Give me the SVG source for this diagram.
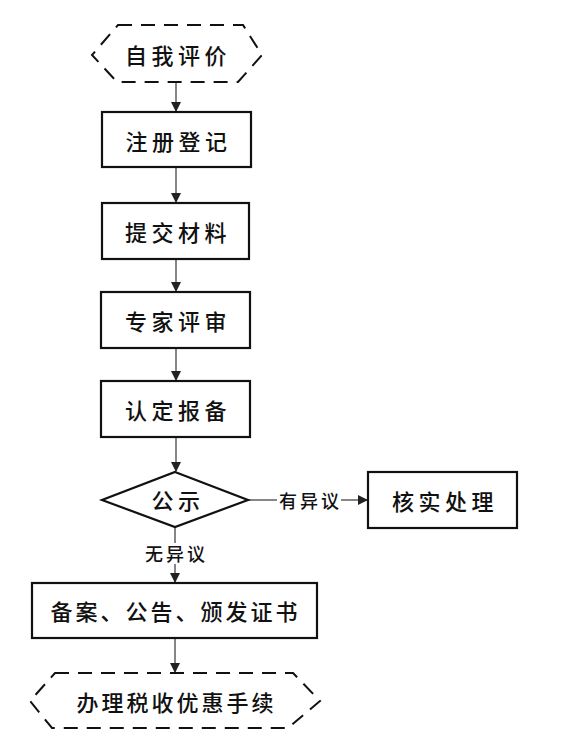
<svg xmlns="http://www.w3.org/2000/svg" width="565" height="755" viewBox="0 0 565 755">
<style>
.box{fill:#fff;stroke:#111;stroke-width:2.2}
.term{fill:#fff;stroke:#111;stroke-width:2;stroke-dasharray:14 9}
.t{font-family:"Noto Sans CJK SC","Noto Sans CJK JP",sans-serif;font-size:22px;font-weight:500;letter-spacing:4.5px;fill:#111;text-anchor:middle;dominant-baseline:central}
.tl{letter-spacing:3px}
.lbl{font-family:"Noto Sans CJK SC","Noto Sans CJK JP",sans-serif;font-size:18px;font-weight:500;letter-spacing:3px;fill:#111;text-anchor:middle;dominant-baseline:central}
.ln{stroke:#444;stroke-width:1.3;fill:none;marker-end:url(#ah)}
.ln2{stroke:#444;stroke-width:1.3;fill:none}
</style>
<defs>
<marker id="ah" markerWidth="10" markerHeight="10" refX="9" refY="5" orient="auto" markerUnits="userSpaceOnUse">
<path d="M0,0 L10,5 L0,10 Z" fill="#222"/>
</marker>
</defs>
<rect width="565" height="755" fill="#fff"/>
<g id="connectors">
<line class="ln" x1="176" y1="82" x2="176" y2="111"/>
<line class="ln" x1="176" y1="167" x2="176" y2="202"/>
<line class="ln" x1="176" y1="259" x2="176" y2="291"/>
<line class="ln" x1="176" y1="348" x2="176" y2="380"/>
<line class="ln" x1="176" y1="437" x2="176" y2="471"/>
<line class="ln2" x1="248" y1="500" x2="277" y2="500"/>
<line class="ln" x1="341" y1="500" x2="367" y2="500"/>
<line class="ln2" x1="175" y1="527" x2="175" y2="543"/>
<line class="ln" x1="175" y1="564" x2="175" y2="582"/>
<line class="ln" x1="175" y1="638" x2="175" y2="672"/>
<text class="lbl" x="310.5" y="500">有异议</text>
<text class="lbl" x="176.5" y="553">无异议</text>
</g>
<g id="n1">
<polygon class="term" points="118,25 243,25 262,55 238,82 117,82 92,55"/>
<text class="t" x="178" y="54">自我评价</text>
</g>
<g id="n2">
<rect class="box" x="102" y="112" width="149" height="55"/>
<text class="t" x="178.5" y="140">注册登记</text>
</g>
<g id="n3">
<rect class="box" x="102" y="203" width="147" height="56"/>
<text class="t" x="178" y="231">提交材料</text>
</g>
<g id="n4">
<rect class="box" x="101" y="292" width="149" height="56"/>
<text class="t" x="178" y="320">专家评审</text>
</g>
<g id="n5">
<rect class="box" x="101" y="381" width="149" height="56"/>
<text class="t" x="178" y="409">认定报备</text>
</g>
<g id="n6">
<polygon class="box" points="175,472 248,500 175,527 102,500"/>
<text class="t" x="178" y="499">公示</text>
</g>
<g id="n7">
<rect class="box" x="368" y="472" width="149" height="56"/>
<text class="t" x="445" y="500">核实处理</text>
</g>
<g id="n8">
<rect class="box" x="32" y="583" width="285" height="55"/>
<text class="t tl" x="175.5" y="610">备案、公告、颁发证书</text>
</g>
<g id="n9">
<polygon class="term" points="55,673 293,673 320,701 288,728 52,728 30,701"/>
<text class="t tl" x="176.5" y="701">办理税收优惠手续</text>
</g>
</svg>
